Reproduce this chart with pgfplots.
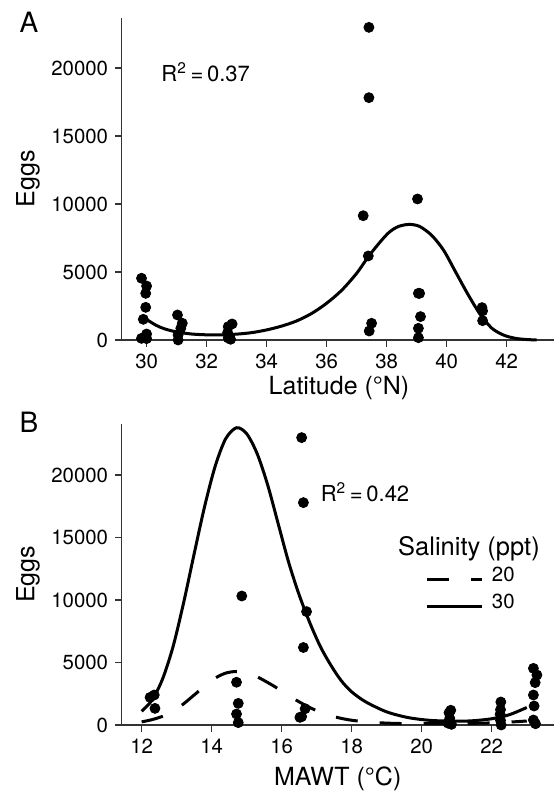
\documentclass[border=0pt]{standalone}
\usepackage{fontspec}
\setmainfont{TeX Gyre Heros}
\usepackage{pgfplots}
\pgfplotsset{compat=1.18}
\begin{document}
\begin{tikzpicture}
\path[use as bounding box] (0,0) rectangle (277.5pt,397.5pt);
\pgfplotsset{
  panel/.style={
    scale only axis, width=216pt,
    axis lines=left, axis line style={-, black!80, line width=0.7pt},
    tick align=outside, major tick length=3.3pt,
    tick style={black!80, line width=0.7pt},
    ymin=0, ytick={0,5000,10000,15000,20000},
    scaled y ticks=false,
    /pgf/number format/1000 sep={},
    /pgf/number format/assume math mode=true,
    ticklabel style={font=\fontsize{10.2}{12}\selectfont},
    clip=false,
  },
  dots/.style={only marks, mark=*, mark size=2.5pt, black, mark options={draw=black, fill=black}},
  fitline/.style={black, line width=1.5pt, smooth, no marks},
}
% ---------------- Panel A ----------------
\begin{axis}[panel,
  at={(60.85pt,227.5pt)}, anchor=south west, height=161pt,
  xmin=29.17, xmax=43.57, ymax=23680,
  xtick={30,32,34,36,38,40,42},
  every axis y label/.style={at={(axis description cs:-0.217,0.5)},rotate=90,anchor=center,font=\fontsize{12.5}{15}\selectfont},
  every axis x label/.style={at={(axis description cs:0.503,-0.149)},anchor=center,font=\fontsize{12.5}{15}\selectfont},
  xlabel={Latitude (°N)}, ylabel={Eggs},
]
\addplot[dots] coordinates {
 (29.83,4540) (30.0,3970) (29.97,3430) (29.97,2400) (29.89,1520) (30.0,440) (29.83,120) (30.0,100)
 (31.03,1840) (31.19,1230) (31.14,860) (31.05,370) (31.05,0)
 (32.85,1180) (32.72,980) (32.70,540) (32.72,150) (32.80,50)
 (37.22,9140) (37.41,22990) (37.41,17820) (37.39,6180) (37.50,1230) (37.42,660)
 (39.03,10370) (39.06,3430) (39.10,3430) (39.13,1720) (39.06,860) (39.06,170)
 (41.18,2380) (41.20,2140) (41.20,1420)
};
\addplot[fitline] coordinates {
 (29.95,1580) (30.3,1100) (30.6,820) (31.0,590) (31.5,440) (32.0,380) (32.5,380)
 (33.0,430) (33.5,540) (34.0,740) (34.5,1020) (35.0,1400) (35.5,1950) (36.0,2700)
 (36.5,3650) (37.0,4900) (37.4,6150) (37.8,7250) (38.1,7950) (38.4,8350) (38.75,8500)
 (39.1,8350) (39.5,7700) (39.9,6600) (40.3,5000) (40.7,3400) (41.1,1950) (41.5,880)
 (41.9,360) (42.3,120) (42.7,30) (43.0,5)
};
\node[font=\fontsize{11}{13}\selectfont] at (axis cs:31.97,19700) {R\textsuperscript{2}\,=\,0.37};
\end{axis}
% ---------------- Panel B ----------------
\begin{axis}[panel,
  at={(60.85pt,35pt)}, anchor=south west, height=150.5pt,
  xmin=11.43, xmax=23.77, ymax=24080,
  xtick={12,14,16,18,20,22},
  every axis y label/.style={at={(axis description cs:-0.217,0.5)},rotate=90,anchor=center,font=\fontsize{12.5}{15}\selectfont},
  every axis x label/.style={at={(axis description cs:0.50,-0.179)},anchor=center,font=\fontsize{12.5}{15}\selectfont},
  xlabel={MAWT (°C)}, ylabel={Eggs},
  legend style={at={(axis cs:20.12,10536)}, anchor=west, draw=none, fill=none,
    inner sep=0pt, outer sep=0pt, row sep=0pt, column sep=4pt,
    nodes={inner sep=0pt, text height=7.5pt, text depth=5.8pt, anchor=west},
    font=\fontsize{10.2}{12}\selectfont},
  legend cell align=left,
  legend image code/.code={\draw[#1] (0pt,0pt) -- (27.5pt,0pt);},
]
\addplot[dots, forget plot] coordinates {
 (12.24,2210) (12.36,2400) (12.38,1330)
 (14.71,3420) (14.76,1730) (14.71,880) (14.76,190) (14.86,10320)
 (16.57,22990) (16.62,17790) (16.71,9070) (16.62,6200) (16.57,670) (16.67,1300) (16.52,610)
 (20.83,1180) (20.78,980) (20.80,540) (20.75,150) (20.85,50)
 (22.26,1840) (22.25,1230) (22.24,860) (22.25,370) (22.27,0)
 (23.19,4530) (23.29,4000) (23.24,3390) (23.19,2400) (23.21,1520) (23.19,400) (23.25,100)
};
\addplot[fitline, dash pattern=on 11pt off 11pt] coordinates {
 (12.0,250) (12.3,430) (12.6,700) (12.9,1100) (13.2,1700) (13.5,2400) (13.8,3100)
 (14.1,3750) (14.4,4150) (14.7,4280) (15.0,4150) (15.3,3850) (15.6,3400) (15.9,2900)
 (16.2,2350) (16.5,1850) (16.8,1400) (17.1,1030) (17.4,740) (17.7,530) (18.0,380)
 (18.4,250) (19.0,150) (19.6,110) (20.2,100) (20.8,110) (21.4,130) (22.0,170)
 (22.5,230) (23.0,320)
};
\addlegendentry{20}
\addplot[fitline] coordinates {
 (12.0,1100) (12.3,2000) (12.6,3700) (12.9,6300) (13.2,9800) (13.5,13700) (13.8,17500)
 (14.1,20700) (14.4,22900) (14.71,23780) (15.0,23300) (15.3,21700) (15.6,19200)
 (15.9,16100) (16.2,13000) (16.5,10400) (16.8,8200) (17.1,6300) (17.4,4800) (17.7,3550)
 (18.0,2650) (18.4,1850) (19.0,1050) (19.6,600) (20.2,380) (20.8,310) (21.4,330)
 (22.0,500) (22.5,820) (23.0,1400)
};
\addlegendentry{30}
\node[font=\fontsize{12.75}{15}\selectfont] at (axis cs:21.35,14080) {Salinity (ppt)};
\node[font=\fontsize{11}{13}\selectfont] at (axis cs:18.38,18640) {R\textsuperscript{2}\,=\,0.42};
\end{axis}
\node[font=\fontsize{14}{16}\selectfont] at (14.5pt,386.5pt) {A};
\node[font=\fontsize{14}{16}\selectfont] at (14.5pt,186.5pt) {B};
\end{tikzpicture}
\end{document}
